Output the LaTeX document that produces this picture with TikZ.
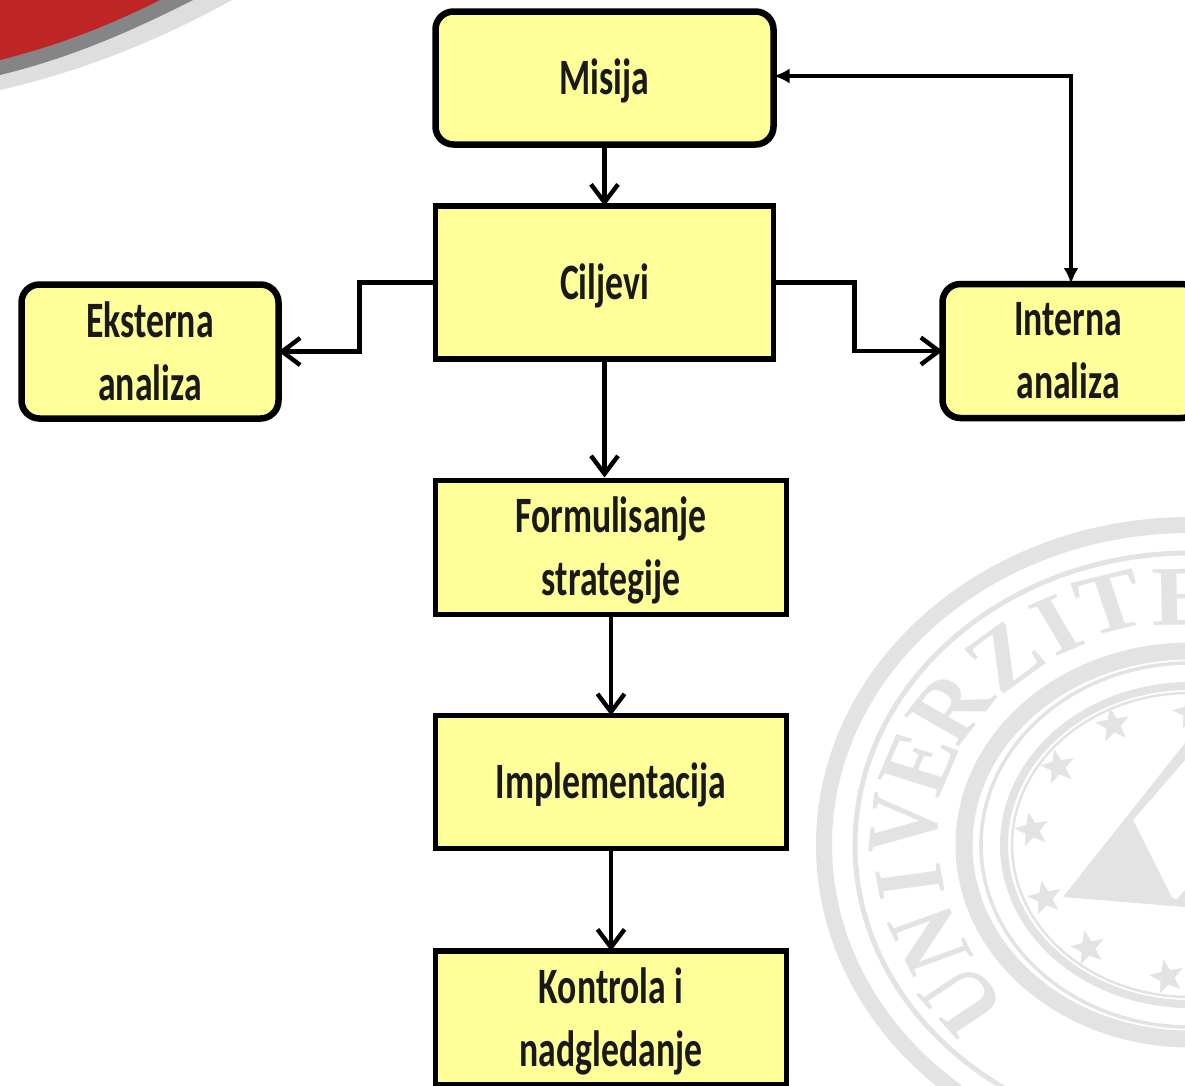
\documentclass[tikz,border=0pt]{standalone}
\usepackage{fontspec}
\setmainfont{Carlito}[FakeStretch=0.7,BoldFont=Carlito Bold]
\newfontfamily\sealfont{Liberation Serif}[BoldFont=Liberation Serif Bold]
\usetikzlibrary{arrows.meta,shapes.geometric}
\definecolor{boxyellow}{HTML}{FFFF99}
\definecolor{sealgray}{HTML}{E3E3E3}
\definecolor{cornerred}{HTML}{BE2525}
\definecolor{cornergray}{HTML}{858587}
\definecolor{cornerlight}{HTML}{DEDEDF}
\newcommand{\lowr}[1]{\raisebox{-3pt}[\height][\depth]{#1}}
\tikzset{
  plainbox/.style={draw=black,fill=boxyellow,line width=5.5pt,outer sep=0pt,inner sep=0pt,align=center,
    font=\fontsize{51}{63}\bfseries\selectfont,text=black!90},
  softbox/.style={plainbox,line width=6.5pt,rounded corners=18pt},
  link/.style={line width=4.4pt,draw=black,-{Straight Barb[length=18pt,width=27pt,line width=4.4pt]}},
  biarrow/.style={line width=4.4pt,draw=black,{Latex[length=16pt,width=15pt]}-{Latex[length=16pt,width=15pt]}},
  sealletter/.style={text=sealgray,font=\fontsize{85}{85}\sealfont\bfseries\selectfont,inner sep=0pt},
  sealstar/.style={star,star points=5,star point ratio=2.4,fill=sealgray,minimum size=36pt,inner sep=0pt,outer sep=0pt},
  ring/.style={draw=sealgray}
}
\begin{document}
\begin{tikzpicture}[x=1pt,y=-1pt]
\useasboundingbox (0,0) rectangle (1185,1085);
\clip (0,0) rectangle (1185,1085);
\fill[white] (0,0) rectangle (1185,1085);
% corner swoosh
\fill[cornerlight] (0,0) -- (232,0) .. controls (160,40) and (80,72) .. (0,90) -- cycle;
\fill[cornergray] (0,0) -- (193,0) .. controls (130,32) and (70,58) .. (0,75) -- cycle;
\fill[cornerred] (0,0) -- (160,0) .. controls (110,25) and (60,45) .. (0,60) -- cycle;
% seal
\coordinate (c) at (1190,845);
\draw[ring,line width=16pt] (c) ellipse [x radius=366,y radius=320];
\draw[ring,line width=5pt] (c) ellipse [x radius=335,y radius=292];
\draw[ring,line width=17pt] (c) ellipse [x radius=226,y radius=194];
\draw[ring,line width=3.5pt] (c) ellipse [x radius=209,y radius=182];
\draw[ring,line width=8pt] (c) ellipse [x radius=186,y radius=159];
\draw[ring,line width=2.5pt] (c) ellipse [x radius=178,y radius=152];
\begin{scope}[shift={(c)},xscale=1.17,transform shape]
\node[sealletter,rotate=128] (lU) at (-194,155) {U};
\node[sealletter,rotate=113] (lN) at (-222,95) {N};
\node[sealletter,rotate=99] (lI) at (-239,37) {I};
\node[sealletter,rotate=85] (lV) at (-244,-20) {V};
\node[sealletter,rotate=70] (lE) at (-231,-82) {E};
\node[sealletter,rotate=56] (lR) at (-205,-138) {R};
\node[sealletter,rotate=40] (lZ) at (-158,-188) {Z};
\node[sealletter,rotate=27] (lJ) at (-114,-220) {I};
\node[sealletter,rotate=16] (lT) at (-68,-242) {T};
\node[sealletter,rotate=1] (lF) at (-4,-248) {E};
\end{scope}
\node[sealstar,rotate=10] (s1) at (1113,725) {};
\node[sealstar,rotate=12] (s2) at (1058,767) {};
\node[sealstar,rotate=12] (s3) at (1032,830) {};
\node[sealstar,rotate=12] (s4) at (1045,898) {};
\node[sealstar,rotate=12] (s5) at (1088,948) {};
\node[sealstar,rotate=12] (s6) at (1167,977) {};
\node[sealstar,rotate=12] (s7) at (1190,712) {};
\fill[sealgray] (1063,897) -- (1185,743) -- (1185,760) -- (1133,820) -- (1171,896) .. controls (1174,900) and (1177,900) .. (1179,897) -- (1185,890) -- (1185,907) -- cycle;
% boxes
\node[softbox,minimum width=338pt,minimum height=133pt] (mis) at (604.5,78) {\lowr{Misija}};
\node[plainbox,minimum width=338pt,minimum height=153pt] (cil) at (604.5,282.5) {\lowr{Ciljevi}};
\node[softbox,minimum width=257pt,minimum height=134pt] (eks) at (150,351.5) {Eksterna\\analiza};
\node[softbox,minimum width=257pt,minimum height=134pt] (int) at (1071,351) {Interna\hspace*{6pt}\\analiza\hspace*{6pt}};
\node[plainbox,minimum width=351pt,minimum height=134pt] (form) at (611,547.5) {\lowr{Formulisanje}\\\lowr{strategije}};
\node[plainbox,minimum width=351pt,minimum height=133pt] (imp) at (611,782) {\lowr{Implementacija}};
\node[plainbox,minimum width=351pt,minimum height=134pt] (kon) at (611,1018) {\lowr{Kontrola i}\\\lowr{nadgledanje}};
% connectors
\draw[link] (mis) -- (cil);
\draw[link] (cil.south) -- ([yshift=3pt]cil.south |- form.north);
\draw[link] (form) -- (imp);
\draw[link] (imp) -- (kon);
\draw[link] (cil.west) -- ++(-76,0) |- (eks.east);
\draw[link] (cil.east) -- ++(81,0) |- (int.west);
\draw[biarrow] ([yshift=2pt]mis.east) -| (int.north);
\end{tikzpicture}
\end{document}
